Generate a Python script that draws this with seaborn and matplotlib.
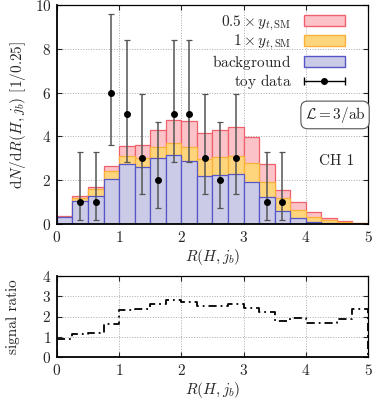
import numpy as np
import pandas as pd
import matplotlib
matplotlib.use('Agg')
import matplotlib.pyplot as plt
import seaborn as sns
from matplotlib.patches import Patch
from matplotlib.lines import Line2D
from matplotlib.legend_handler import HandlerLine2D, HandlerTuple

# bins de 0.25 en R(H, j_b)
edges = np.linspace(0, 5, 21)
centers = 0.5 * (edges[:-1] + edges[1:])

background = [0.30, 1.05, 1.30, 2.05, 2.75, 2.60, 3.02, 3.13, 2.87, 2.18,
              2.22, 2.27, 1.93, 1.23, 0.60, 0.26, 0.11, 0.04, 0.02, 0.01]
sig_1x = [0.34, 1.20, 1.58, 2.42, 3.10, 3.02, 3.52, 3.70, 3.52, 2.97,
          3.04, 3.10, 2.78, 1.92, 1.17, 0.62, 0.33, 0.17, 0.07, 0.03]
sig_05x = [0.38, 1.28, 1.70, 2.63, 3.58, 3.63, 4.28, 4.74, 4.70, 4.17,
           4.30, 4.42, 3.97, 2.74, 1.55, 1.00, 0.55, 0.28, 0.13, 0.06]

# datos de prueba (Poisson) con intervalos asimetricos
data_x = [0.375, 0.625, 0.875, 1.125, 1.375, 1.625, 1.875, 2.125, 2.375,
          2.625, 2.875, 3.375, 3.625]
data_n = [1, 1, 6, 5, 3, 2, 5, 5, 3, 2, 3, 1, 1]
data_lo = [0.17, 0.17, 3.62, 2.84, 1.37, 0.71, 2.84, 2.84, 1.37, 0.71, 1.37, 0.17, 0.17]
data_hi = [3.30, 3.30, 9.58, 8.38, 5.92, 4.64, 8.38, 8.38, 5.92, 4.64, 5.92, 3.30, 3.30]

ratio = [0.90, 1.15, 1.20, 1.62, 2.32, 2.36, 2.60, 2.83, 2.73, 2.53,
         2.53, 2.60, 2.43, 2.23, 1.76, 1.92, 1.66, 1.66, 1.87, 2.35]

sns.set_style('ticks')
plt.rcParams['font.family'] = 'serif'
plt.rcParams['font.serif'] = ['cmr10']
plt.rcParams['mathtext.fontset'] = 'cm'
plt.rcParams['axes.formatter.use_mathtext'] = True
plt.rcParams['font.size'] = 11

fig = plt.figure(figsize=(3.74, 4.0), dpi=100)
ax = fig.add_axes([0.152, 0.44, 0.832, 0.5475])
ax2 = fig.add_axes([0.152, 0.1075, 0.832, 0.2025])

df = pd.DataFrame({'x': centers, 'bg': background, 's1': sig_1x, 's05': sig_05x})

capas = [('s05', '#fbc3c7', '#f0606c'),
         ('s1', '#fed57c', '#fbb03a'),
         ('bg', '#cbcbe8', '#5656c6')]
for col, fc, ec in capas:
    sns.histplot(data=df, x='x', weights=col, binwidth=0.25, binrange=(0, 5), ax=ax,
                 color=fc, edgecolor=ec, linewidth=0.9, alpha=1, zorder=2)

eb = ax.errorbar(data_x, data_n,
                 yerr=[np.array(data_n) - np.array(data_lo), np.array(data_hi) - np.array(data_n)],
                 fmt='o', color='black', ecolor='#555555', elinewidth=1.1,
                 capsize=2.5, capthick=0.9, markersize=4, zorder=5)
for cap in eb[1]:
    cap.set_color('black')

ax.set_xlim(0, 5)
ax.set_ylim(0, 10)
ax.set_xticks(range(6))
ax.set_yticks(range(0, 11, 2))
ax.set_xlabel(r'$R(H, j_b)$', labelpad=2)
ax.set_ylabel(r'$\mathrm{d}N/\mathrm{d}R(H, j_b)$ [1/0.25]', labelpad=5)

# entrada de leyenda estilo gnuplot para los datos
barra = Line2D([], [], color='black', lw=1.0, marker='|', markersize=6, markeredgewidth=1.0)
punto = Line2D([], [], color='black', lw=0, marker='o', markersize=4)
handles = [Patch(facecolor='#fbc3c7', edgecolor='#f0606c'),
           Patch(facecolor='#fed57c', edgecolor='#fbb03a'),
           Patch(facecolor='#cbcbe8', edgecolor='#5656c6'),
           (barra, punto)]
labels = [r'$0.5\times y_{t,\mathrm{SM}}$', r'$1\times y_{t,\mathrm{SM}}$',
          r'$\mathrm{background}$', r'$\mathrm{toy\ data}$']
ax.legend(handles, labels, loc='upper right', bbox_to_anchor=(0.95, 0.995),
          frameon=False, markerfirst=False, borderpad=0, handlelength=2.7,
          handleheight=0.7, labelspacing=0.02, handletextpad=0.8, fontsize=11,
          handler_map={barra: HandlerLine2D(numpoints=2, marker_pad=0),
                       punto: HandlerLine2D(numpoints=1),
                       tuple: HandlerTuple(ndivide=1)})

ax.text(4.47, 4.98, r'$\mathcal{L} = 3/\mathrm{ab}$', ha='center', va='center',
        bbox=dict(boxstyle='round,pad=0.25,rounding_size=0.45', fc='white', ec='#555555', lw=0.8))
ax.text(4.5, 2.85, 'CH 1', ha='center', va='center')

# panel de cociente de senal
xs = np.concatenate([[0.0], edges])
ys = np.concatenate([[0.0], ratio, [0.0]])
sns.lineplot(x=xs, y=ys, ax=ax2, estimator=None, sort=False, drawstyle='steps-post',
             color='black', linewidth=1.3, dashes=False)
ax2.lines[0].set_dashes([4.5, 2.2, 1.0, 2.2])
ax2.set_xlim(0, 5)
ax2.set_ylim(0, 4)
ax2.set_xticks(range(6))
ax2.set_yticks(range(5))
ax2.set_xlabel(r'$R(H, j_b)$', labelpad=2)
ax2.set_ylabel('signal ratio', labelpad=16)

for a in (ax, ax2):
    a.grid(True, color='#aaaaaa', linestyle=':', linewidth=0.7)
    a.set_axisbelow(True)
    a.tick_params(direction='in', top=True, right=True, length=3.5, width=0.8,
                  labelsize=11, pad=4)
    for s in a.spines.values():
        s.set_color('black')
        s.set_linewidth(0.9)
    a.spines['left'].set_linewidth(1.3)
    a.spines['bottom'].set_linewidth(1.3)

fig.savefig('out.png', dpi=100)
